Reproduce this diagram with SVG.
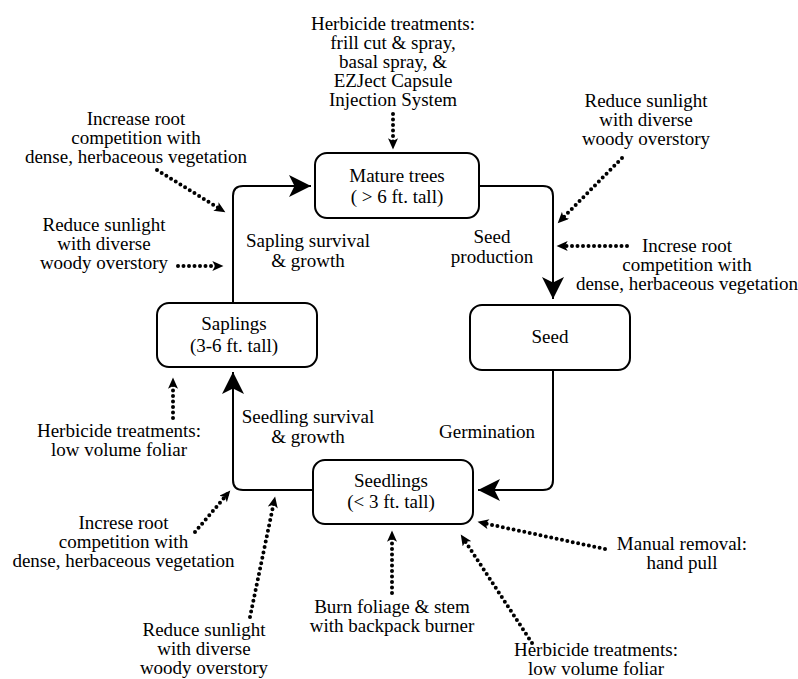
<svg xmlns="http://www.w3.org/2000/svg" width="798" height="679" viewBox="0 0 798 679">
<style>
text{font-size:19px;fill:#000;text-anchor:middle}
.box{fill:#fff;stroke:#000;stroke-width:2}
.flow{fill:none;stroke:#000;stroke-width:2}
.dot{fill:none;stroke:#000;stroke-width:4;stroke-linecap:round;stroke-dasharray:0 5.5}
</style>
<defs>
<marker id="big" markerUnits="userSpaceOnUse" markerWidth="22" markerHeight="22" viewBox="0 0 20 20" refX="20" refY="10" orient="auto">
<path d="M0,0 L20,10 L0,20 L5,10 Z" fill="#000"/>
</marker>
<marker id="small" markerUnits="userSpaceOnUse" markerWidth="12" markerHeight="10" viewBox="0 0 10 9" refX="6" refY="4.5" orient="auto">
<path d="M0,0 L10,4.5 L0,9 L2.5,4.5 Z" fill="#000"/>
</marker>
</defs>

<g id="connectors">
<path class="flow" d="M479,186 H543 Q553,186 553,196 V299" marker-end="url(#big)"/>
<path class="flow" d="M553,370 V480 Q553,490 543,490 H478" marker-end="url(#big)"/>
<path class="flow" d="M313,490 H243 Q233,490 233,480 V372" marker-end="url(#big)"/>
<path class="flow" d="M233,303 V196 Q233,186 243,186 H311" marker-end="url(#big)"/>
<path class="dot" d="M393,114 L393,145" marker-end="url(#small)"/>
<path class="dot" d="M157,170 L221.6,209.9" marker-end="url(#small)"/>
<path class="dot" d="M178,266 L219,266" marker-end="url(#small)"/>
<path class="dot" d="M173,418 L173,382" marker-end="url(#small)"/>
<path class="dot" d="M195,532 L227.4,494" marker-end="url(#small)"/>
<path class="dot" d="M250,617 L274.2,500.9" marker-end="url(#small)"/>
<path class="dot" d="M392,593 L392,535" marker-end="url(#small)"/>
<path class="dot" d="M532,643 L463.2,538.3" marker-end="url(#small)"/>
<path class="dot" d="M605,549 L481.9,522.8" marker-end="url(#small)"/>
<path class="dot" d="M622,158 L560.8,220.1" marker-end="url(#small)"/>
<path class="dot" d="M627,246 L561,246" marker-end="url(#small)"/>
</g>

<g font-family="Liberation Serif, DejaVu Serif, serif">
<g id="mature">
<rect class="box" x="315" y="153" width="164" height="65" rx="12"/>
<text x="397" y="182">Mature trees</text>
<text x="397" y="203">( &gt; 6 ft. tall)</text>
</g>
<g id="seed">
<rect class="box" x="470" y="305" width="160" height="65" rx="12"/>
<text x="550" y="343">Seed</text>
</g>
<g id="seedlings">
<rect class="box" x="313" y="460" width="160" height="64" rx="12"/>
<text x="391" y="487">Seedlings</text>
<text x="391" y="508">(&lt; 3 ft. tall)</text>
</g>
<g id="saplings">
<rect class="box" x="157" y="303" width="160" height="64" rx="12"/>
<text x="234" y="330">Saplings</text>
<text x="234" y="352">(3-6 ft. tall)</text>
</g>

<g id="label-sapling-growth">
<text x="308" y="247">Sapling survival</text>
<text x="308" y="267">&amp; growth</text>
</g>
<g id="label-seed-production">
<text x="492" y="243">Seed</text>
<text x="492" y="263">production</text>
</g>
<g id="label-germination">
<text x="487" y="438">Germination</text>
</g>
<g id="label-seedling-growth">
<text x="308" y="423">Seedling survival</text>
<text x="308" y="443">&amp; growth</text>
</g>

<g id="note-top">
<text x="393" y="30">Herbicide treatments:</text>
<text x="393" y="49">frill cut &amp; spray,</text>
<text x="393" y="68">basal spray, &amp;</text>
<text x="393" y="87">EZJect Capsule</text>
<text x="393" y="106">Injection System</text>
</g>
<g id="note-top-left">
<text x="136" y="125">Increase root</text>
<text x="136" y="144">competition with</text>
<text x="136" y="163">dense, herbaceous vegetation</text>
</g>
<g id="note-left">
<text x="104" y="231">Reduce sunlight</text>
<text x="104" y="250">with diverse</text>
<text x="104" y="269">woody overstory</text>
</g>
<g id="note-left-herbicide">
<text x="119" y="437">Herbicide treatments:</text>
<text x="119" y="456">low volume foliar</text>
</g>
<g id="note-bottom-left">
<text x="123.5" y="529">Increse root</text>
<text x="123.5" y="548">competition with</text>
<text x="123.5" y="567">dense, herbaceous vegetation</text>
</g>
<g id="note-bottom-reduce">
<text x="204" y="636">Reduce sunlight</text>
<text x="204" y="655">with diverse</text>
<text x="204" y="674">woody overstory</text>
</g>
<g id="note-burn">
<text x="392" y="613">Burn foliage &amp; stem</text>
<text x="392" y="632">with backpack burner</text>
</g>
<g id="note-bottom-herbicide">
<text x="596" y="656">Herbicide treatments:</text>
<text x="596" y="675">low volume foliar</text>
</g>
<g id="note-manual">
<text x="682" y="550">Manual removal:</text>
<text x="682" y="569">hand pull</text>
</g>
<g id="note-top-right">
<text x="646" y="107">Reduce sunlight</text>
<text x="646" y="126">with diverse</text>
<text x="646" y="145">woody overstory</text>
</g>
<g id="note-right">
<text x="687" y="252">Increse root</text>
<text x="687" y="271">competition with</text>
<text x="687" y="290">dense, herbaceous vegetation</text>
</g>
</g>
</svg>
